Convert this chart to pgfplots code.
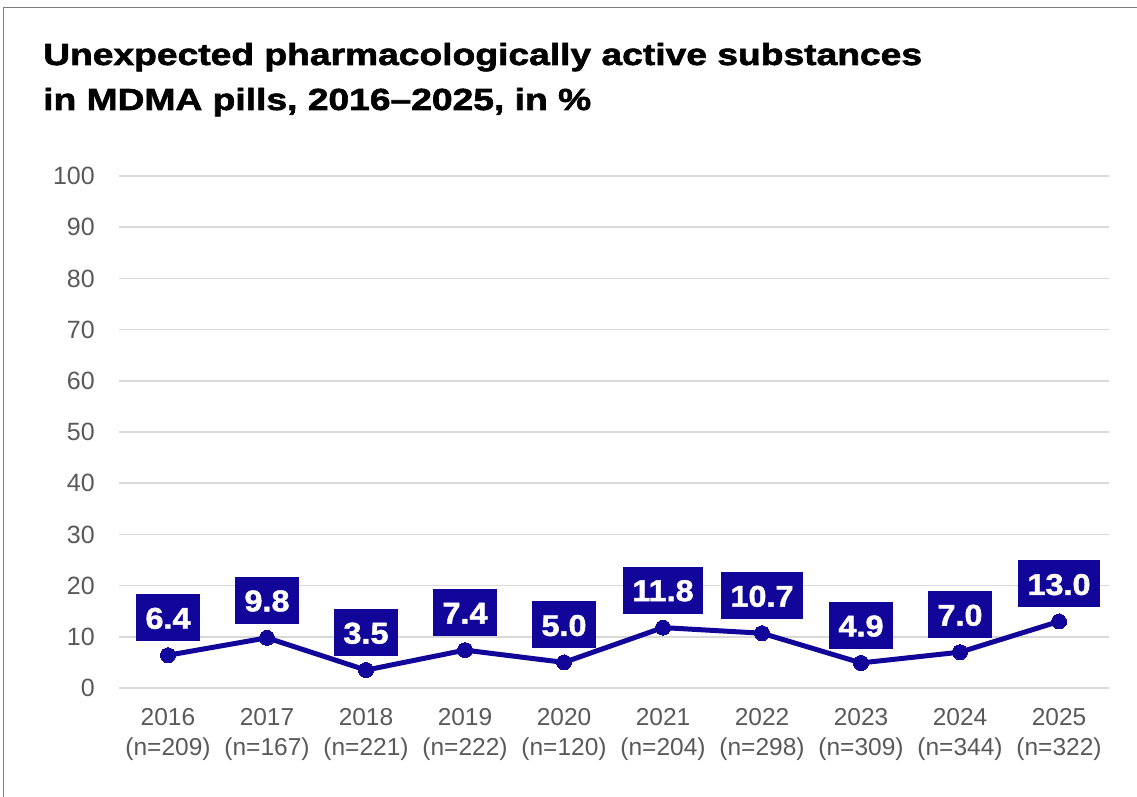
\documentclass[border=0pt]{standalone}
\usepackage{pgfplots}
\pgfplotsset{compat=1.18}
\usepackage{fontspec}
\setmainfont{Liberation Sans}
\newfontfamily\titlefont{Liberation Sans}[FakeStretch=1.22,FakeBold=2]
\newfontfamily\labelfont{Liberation Sans}[FakeStretch=1.08,FakeBold=1.5]
\definecolor{navy}{RGB}{17,5,154}
\definecolor{ticktext}{RGB}{89,89,89}
\definecolor{gridc}{RGB}{217,217,217}
\definecolor{framec}{RGB}{127,127,127}
\begin{document}
\begin{tikzpicture}[x=1pt,y=1pt]
\useasboundingbox (0,0) rectangle (1137,796);
\draw[framec, line width=1.5pt] (3.5,-20) -- (3.5,788.5) -- (1160,788.5);
\node[anchor=base west, align=left, inner sep=0pt, font={\titlefont\bfseries\fontsize{30.5}{45}\selectfont}] at (43,686) {Unexpected pharmacologically active substances\\in MDMA pills, 2016–2025, in \%};
\begin{axis}[
  at={(118.5pt,108pt)}, anchor=south west,
  scale only axis, width=990pt, height=512pt,
  xmin=-0.5, xmax=9.5, ymin=0, ymax=100,
  axis line style={draw=none},
  tick style={draw=none},
  ytick={0,10,...,100},
  xtick={0,...,9},
  xticklabels={{2016\\(n=209)},{2017\\(n=167)},{2018\\(n=221)},{2019\\(n=222)},{2020\\(n=120)},{2021\\(n=204)},{2022\\(n=298)},{2023\\(n=309)},{2024\\(n=344)},{2025\\(n=322)}},
  ymajorgrids, grid style={gridc, line width=1.7pt},
  /pgf/number format/assume math mode=true,
  yticklabel style={font=\fontsize{25}{30}\selectfont, text=ticktext, anchor=east, inner sep=0pt, xshift=-23.5pt},
  xticklabel style={font=\fontsize{24.5}{30}\selectfont, text=ticktext, align=center, anchor=north, inner sep=0pt, yshift=-20pt},
  clip=false,
  nodes near coords,
  nodes near coords style={/pgf/number format/fixed, /pgf/number format/fixed zerofill, /pgf/number format/precision=1, /pgf/number format/assume math mode=true},
  every node near coord/.append style={fill=navy, text=white, font=\labelfont\bfseries\fontsize{30}{30}\selectfont, anchor=south, yshift=14pt, inner xsep=9.5pt, inner ysep=12.5pt, text height=22pt, text depth=0pt},
]
\addplot[navy, line width=5pt, mark=*, mark size=7.5pt, mark options={fill=navy, draw=navy, line width=0pt}] coordinates {
(0,6.4) (1,9.8) (2,3.5) (3,7.4) (4,5.0) (5,11.8) (6,10.7) (7,4.9) (8,7.0) (9,13.0)
};
\end{axis}
\end{tikzpicture}
\end{document}
